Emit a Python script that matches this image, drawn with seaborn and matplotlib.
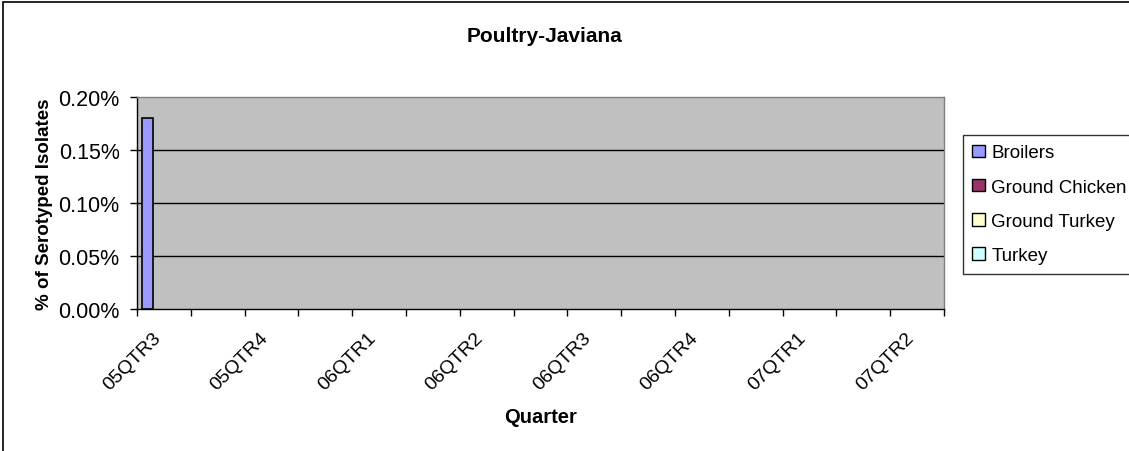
import numpy as np
import pandas as pd
import matplotlib
matplotlib.use("Agg")
import matplotlib.pyplot as plt
import seaborn as sns
from matplotlib.patches import Rectangle
from matplotlib.ticker import FuncFormatter, FixedLocator
from matplotlib.transforms import ScaledTranslation

# ===============================
# Data (percent of serotyped isolates)
# ===============================
slots = list(range(15))  # category slots on the x axis
tick_labels = ["05QTR3", "", "05QTR4", "", "06QTR1", "", "06QTR2", "",
               "06QTR3", "", "06QTR4", "", "07QTR1", "", "07QTR2"]
series = ["Broilers", "Ground Chicken", "Ground Turkey", "Turkey"]
broilers = [0.18, 0, 0, 0, 0, 0, 0, 0, 0, 0, 0, 0, 0, 0, 0]
ground_chicken = [0, 0, 0, 0, 0, 0, 0, 0, 0, 0, 0, 0, 0, 0, 0]
ground_turkey = [0, 0, 0, 0, 0, 0, 0, 0, 0, 0, 0, 0, 0, 0, 0]
turkey = [0, 0, 0, 0, 0, 0, 0, 0, 0, 0, 0, 0, 0, 0, 0]
colors = ["#9999FF", "#993366", "#FFFFCC", "#CCFFFF"]

df = pd.DataFrame({
    "slot": slots * 4,
    "series": np.repeat(series, len(slots)),
    "value": broilers + ground_chicken + ground_turkey + turkey,
})

# ===============================
# Plot
# ===============================
sns.set_theme(style="white")
plt.rcParams["font.family"] = ["Liberation Sans", "DejaVu Sans"]
plt.rcParams["text.color"] = "black"
plt.rcParams["axes.labelcolor"] = "black"
plt.rcParams["xtick.color"] = "black"
plt.rcParams["ytick.color"] = "black"

fig = plt.figure(figsize=(11.29, 4.52), dpi=100)
ax = fig.add_axes([137 / 1129, 1 - 310 / 452, (944 - 137) / 1129, (310 - 98) / 452])

sns.barplot(data=df, x="slot", y="value", hue="series", order=slots,
            hue_order=series, palette=colors, width=0.8, saturation=1,
            edgecolor="black", linewidth=1.2, ax=ax, legend=True)

for p in ax.patches:
    if p.get_height() == 0:
        p.set_linewidth(0)

ax.set_facecolor("#C0C0C0")
ax.set_xlim(-0.5, 14.5)
ax.set_ylim(0, 0.20)
ax.set_yticks([0, 0.05, 0.10, 0.15, 0.20])
ax.yaxis.set_major_formatter(FuncFormatter(lambda v, _: f"{v:.2f}%"))
for y in [0.05, 0.10, 0.15]:
    ax.axhline(y, color="black", lw=1, zorder=0.5)

ax.set_xticks(slots)
ax.set_xticklabels(tick_labels, rotation=45, ha="right", rotation_mode="anchor")
ax.xaxis.set_minor_locator(FixedLocator(np.arange(-0.5, 15, 1)))
ax.tick_params(axis="x", which="major", length=0, pad=14, labelsize=14)
ax.tick_params(axis="x", which="minor", length=5, width=1, color="black",
               direction="out", bottom=True)
ax.tick_params(axis="y", length=5, width=1, color="black", direction="out",
               left=True, labelsize=15.5, pad=7.5)

for side in ["top", "right"]:
    ax.spines[side].set_color("#808080")
    ax.spines[side].set_linewidth(1)
for side in ["left", "bottom"]:
    ax.spines[side].set_color("black")
    ax.spines[side].set_linewidth(1)

ax.set_xlabel("Quarter", fontsize=14.5, fontweight="bold", labelpad=10)
ax.set_ylabel("% of Serotyped Isolates", fontsize=13.5, fontweight="bold")
ax.yaxis.set_label_coords(-0.104, 0.5)
fig.text(545 / 1129, 1 - 37 / 452, "Poultry-Javiana", ha="center", va="center",
         fontsize=15, fontweight="bold")

leg = ax.legend(loc="upper left", bbox_to_anchor=(963 / 1129, 1 - 136 / 452),
                bbox_transform=fig.transFigure, frameon=True, fancybox=False,
                edgecolor="black", fontsize=13.5, handlelength=0.65,
                handleheight=0.65, handletextpad=0.35, labelspacing=0.92,
                borderpad=0.5, borderaxespad=0)
leg.get_frame().set_linewidth(1)
for h in leg.legend_handles:
    h.set_edgecolor("black")
    h.set_linewidth(1)

# nudge the rotated quarter labels left, as in the original
shift = ScaledTranslation(-12 / 100, 0, fig.dpi_scale_trans)
for lab in ax.get_xticklabels():
    lab.set_transform(lab.get_transform() + shift)

# outer chart border (Excel style)
fig.patches.append(Rectangle((3 / 1129, -0.1), 1.2, 1 - 3 / 452 + 0.1,
                             transform=fig.transFigure, fill=False,
                             edgecolor="black", lw=1.2))

fig.savefig("out.png", dpi=100)
